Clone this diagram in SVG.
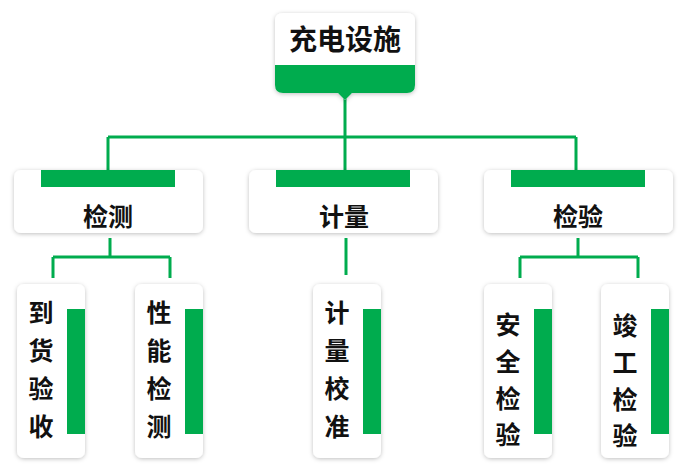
<svg xmlns="http://www.w3.org/2000/svg" width="688" height="474" viewBox="0 0 688 474">
<defs>
<filter id="sh" x="-20%" y="-20%" width="140%" height="140%"><feDropShadow dx="0" dy="1" stdDeviation="2" flood-color="#000" flood-opacity="0.25"/></filter>
<style>
.box{fill:#fff;filter:url(#sh)}
.g{fill:#00ac4e}
.ln{stroke:#00ac4e;stroke-width:3;fill:none}
text{font-family:"Noto Sans CJK SC",sans-serif;font-weight:bold;fill:#111;text-anchor:middle}
.t1{font-size:28px}.t2{font-size:25px}.t3{font-size:25px}
</style>
</defs>
<rect width="688" height="474" fill="#fff"/>
<g id="connectors" class="ln">
<path d="M345 98V137M108 137H576M108 137V170M345 137V170M576 137V170"/>
<path d="M110 238V257M53 257H170M53 257V278M170 257V278"/>
<path d="M346 238V275"/>
<path d="M578 238V257M520 257H638M520 257V278M638 257V278"/>
</g>
<g id="root">
<path class="box" d="M283 13H407Q415 13 415 21V85Q415 93 407 93H352L345 100L338 93H283Q275 93 275 85V21Q275 13 283 13Z"/>
<path class="g" d="M275 65H415V85Q415 93 407 93H352L345 100L338 93H283Q275 93 275 85Z"/>
<text class="t1" x="345" y="50">充电设施</text>
</g>
<g id="n-jc"><rect class="box" x="14" y="170" width="189" height="63" rx="7"/><rect class="g" x="41" y="170" width="134" height="17"/><text class="t2" x="108" y="226">检测</text></g>
<g id="n-jl"><rect class="box" x="249" y="170" width="189" height="63" rx="7"/><rect class="g" x="276" y="170" width="134" height="17"/><text class="t2" x="344" y="226">计量</text></g>
<g id="n-jy"><rect class="box" x="484" y="170" width="189" height="63" rx="7"/><rect class="g" x="511" y="170" width="134" height="17"/><text class="t2" x="578" y="226">检验</text></g>
<g id="l1"><rect class="box" x="17" y="284" width="68" height="174" rx="7"/><rect class="g" x="67" y="309" width="18" height="125"/><text class="t3" x="41"><tspan x="41" y="322">到</tspan><tspan x="41" y="360">货</tspan><tspan x="41" y="398">验</tspan><tspan x="41" y="436">收</tspan></text></g>
<g id="l2"><rect class="box" x="135" y="284" width="68" height="174" rx="7"/><rect class="g" x="185" y="309" width="18" height="125"/><text class="t3" x="159"><tspan x="159" y="322">性</tspan><tspan x="159" y="360">能</tspan><tspan x="159" y="398">检</tspan><tspan x="159" y="436">测</tspan></text></g>
<g id="l3"><rect class="box" x="313" y="284" width="68" height="174" rx="7"/><rect class="g" x="363" y="309" width="18" height="125"/><text class="t3" x="337"><tspan x="337" y="322">计</tspan><tspan x="337" y="360">量</tspan><tspan x="337" y="398">校</tspan><tspan x="337" y="436">准</tspan></text></g>
<g id="l4"><rect class="box" x="484" y="284" width="68" height="174" rx="7"/><rect class="g" x="534" y="309" width="18" height="125"/><text class="t3" x="508"><tspan x="508" y="334">安</tspan><tspan x="508" y="371">全</tspan><tspan x="508" y="408">检</tspan><tspan x="508" y="444">验</tspan></text></g>
<g id="l5"><rect class="box" x="601" y="284" width="68" height="174" rx="7"/><rect class="g" x="651" y="309" width="18" height="125"/><text class="t3" x="625"><tspan x="625" y="335">竣</tspan><tspan x="625" y="372">工</tspan><tspan x="625" y="409">检</tspan><tspan x="625" y="445">验</tspan></text></g>
</svg>
